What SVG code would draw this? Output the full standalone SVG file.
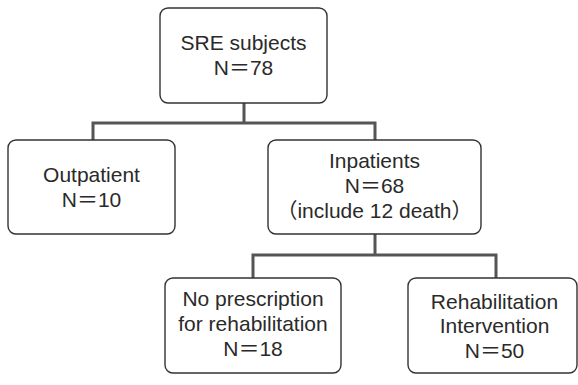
<svg xmlns="http://www.w3.org/2000/svg" width="578" height="385" viewBox="0 0 578 385">
<style>
.box{fill:#fff;stroke:#333;stroke-width:1.4}
.conn{fill:none;stroke:#555;stroke-width:3}
text{font-family:"Liberation Sans","Noto Sans CJK JP",sans-serif;font-size:21px;fill:#2a2a2a;text-anchor:middle}
</style>
<rect width="578" height="385" fill="#fff"/>
<g id="connectors">
<path class="conn" d="M244 103 V123 M93 140 V123 H375 V140"/>
<path class="conn" d="M375 234 V255 M253 278 V255 H496 V278"/>
</g>
<g id="sre">
<rect class="box" x="160" y="8" width="167" height="95" rx="8"/>
<text x="243.5" y="50">SRE subjects</text>
<text x="243.5" y="75">N＝78</text>
</g>
<g id="outpatient">
<rect class="box" x="8" y="140" width="167" height="94" rx="8"/>
<text x="91.5" y="182">Outpatient</text>
<text x="91.5" y="207">N＝10</text>
</g>
<g id="inpatients">
<rect class="box" x="268" y="140" width="213" height="94" rx="8"/>
<text x="374.5" y="168">Inpatients</text>
<text x="374.5" y="193">N＝68</text>
<text x="374.5" y="218">（include 12 death）</text>
</g>
<g id="noprescription">
<rect class="box" x="165" y="278" width="176" height="95" rx="8"/>
<text x="253" y="306">No prescription</text>
<text x="253" y="331">for rehabilitation</text>
<text x="253" y="356">N＝18</text>
</g>
<g id="rehab">
<rect class="box" x="408" y="278" width="169" height="95" rx="8"/>
<text x="494.5" y="309">Rehabilitation</text>
<text x="494.5" y="333">Intervention</text>
<text x="494.5" y="358">N＝50</text>
</g>
</svg>
